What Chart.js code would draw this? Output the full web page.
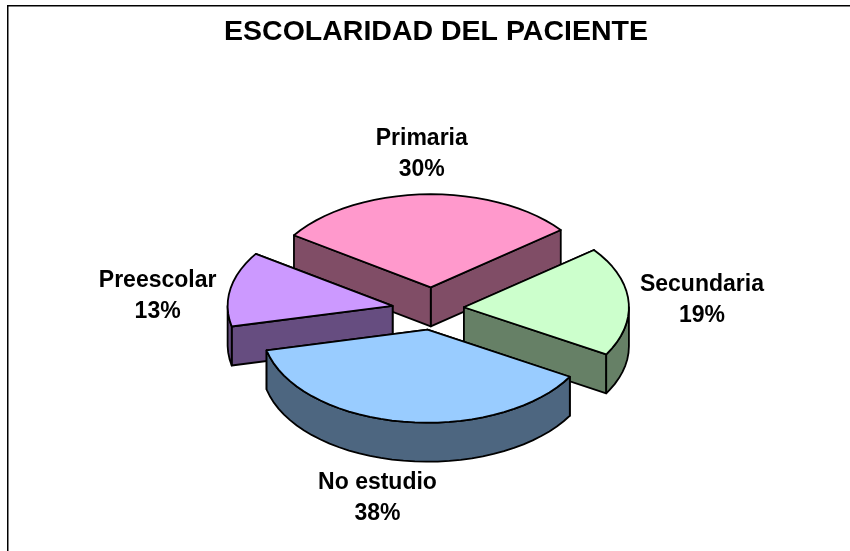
<!DOCTYPE html>
<html><head><meta charset="utf-8">
<style>html,body{margin:0;padding:0;background:#fff}canvas{display:block}</style>
<script src="https://cdn.jsdelivr.net/npm/chart.js@4"></script>
</head><body><canvas id="c" width="850" height="551"></canvas>
<script>
const categories = ['Primaria', 'Secundaria', 'No estudio', 'Preescolar'];
const values = [30, 19, 38, 13];
const topColors = ['#FF99CC', '#CCFFCC', '#99CCFF', '#CC99FF'];
const wallColors = ['#804D66', '#668066', '#4D6680', '#664D80'];
const drawOrder = [0, 3, 1, 2];
const nudges = [[4, -1], [0, 0], [5, 1], [0, 1]];
const labelOffsets = [[-9, -149], [238, -23], [-50, 153], [-235, -25]];
const squash = 0.564, depth = 39, explode = 36, lineH = 31, STEP = Math.PI / 45;

const pie3d = {
  id: 'pie3d',
  afterLayout(chart) { chart.titleBlock.left = 136; chart.titleBlock.right = 736; chart.titleBlock.width = 600; },
  beforeDraw(chart) {
    const c = chart.ctx;
    c.save(); c.fillStyle = '#fff'; c.fillRect(0, 0, 850, 551);
    c.strokeStyle = '#000'; c.lineWidth = 1.5;
    c.beginPath(); c.moveTo(7.75, 551); c.lineTo(7.75, 5.75); c.lineTo(850, 5.75); c.stroke();
    c.restore();
  },
  beforeDatasetDraw(chart) {
    const c = chart.ctx, arcs = chart.getDatasetMeta(0).data;
    const total = values.reduce((a, b) => a + b, 0);
    c.save();
    c.lineWidth = 1.8; c.strokeStyle = '#000'; c.lineJoin = 'round';
    const poly = (pts, fill) => {
      c.beginPath(); pts.forEach((p, i) => i ? c.lineTo(p[0], p[1]) : c.moveTo(p[0], p[1]));
      c.closePath(); c.fillStyle = fill; c.fill(); c.stroke();
    };
    drawOrder.forEach(i => {
      const el = arcs[i], r = el.outerRadius, off = el.options.offset;
      const s = el.startAngle, e = el.endAngle, m = (s + e) / 2;
      const ax = el.x + off * Math.cos(m) + nudges[i][0];
      const ay = el.y + squash * off * Math.sin(m) + nudges[i][1];
      const at = a => [ax + r * Math.cos(a), ay + squash * r * Math.sin(a)];
      const down = p => [p[0], p[1] + depth];
      const rim = [];
      for (let a = s; a < e; a += STEP) rim.push(at(a));
      rim.push(at(e));
      // radial walls, the one further back first
      [s, e].sort((p, q) => Math.sin(p) - Math.sin(q))
        .forEach(a => poly([[ax, ay], at(a), down(at(a)), [ax, ay + depth]], wallColors[i]));
      // outer wall, only the part facing the viewer
      const lo = Math.max(s, 0), hi = Math.min(e, Math.PI);
      const ranges = [[lo, hi], [Math.max(s, 2 * Math.PI), Math.min(e, 3 * Math.PI)]];
      ranges.forEach(([a0, a1]) => {
        if (a1 <= a0) return;
        const arc = [];
        for (let a = a0; a < a1; a += STEP) arc.push(at(a));
        arc.push(at(a1));
        poly(arc.concat(arc.map(down).reverse()), wallColors[i]);
      });
      // top face
      poly([[ax, ay]].concat(rim), el.options.backgroundColor);
    });
    // labels
    c.fillStyle = '#000'; c.textAlign = 'center'; c.textBaseline = 'middle';
    c.font = 'bold 23px "Liberation Sans", Arial, sans-serif';
    arcs.forEach((el, i) => {
      const m = (el.startAngle + el.endAngle) / 2, off = el.options.offset;
      const ax = el.x + off * Math.cos(m) + nudges[i][0];
      const ay = el.y + squash * off * Math.sin(m) + nudges[i][1];
      const lx = ax + labelOffsets[i][0], ly = ay + labelOffsets[i][1];
      c.fillText(categories[i], lx, ly);
      c.fillText(Math.round(values[i] / total * 100) + '%', lx, ly + lineH);
    });
    c.restore();
    return false;
  }
};

new Chart(document.getElementById('c'), {
  type: 'pie',
  data: { labels: categories, datasets: [{ data: values, backgroundColor: topColors, offset: explode, borderWidth: 0 }] },
  options: {
    responsive: false, animation: false, events: [],
    rotation: -56,
    layout: { padding: { left: 245, right: 239, top: 0, bottom: 59 } },
    plugins: {
      legend: { display: false }, tooltip: { enabled: false },
      title: { display: true, text: 'ESCOLARIDAD DEL PACIENTE', color: '#000',
        font: { family: '"Liberation Sans", Arial, sans-serif', size: 28.5, weight: 'bold', lineHeight: 1.2 },
        padding: { top: 15, bottom: 76 } }
    }
  },
  plugins: [pie3d]
});
</script></body></html>
